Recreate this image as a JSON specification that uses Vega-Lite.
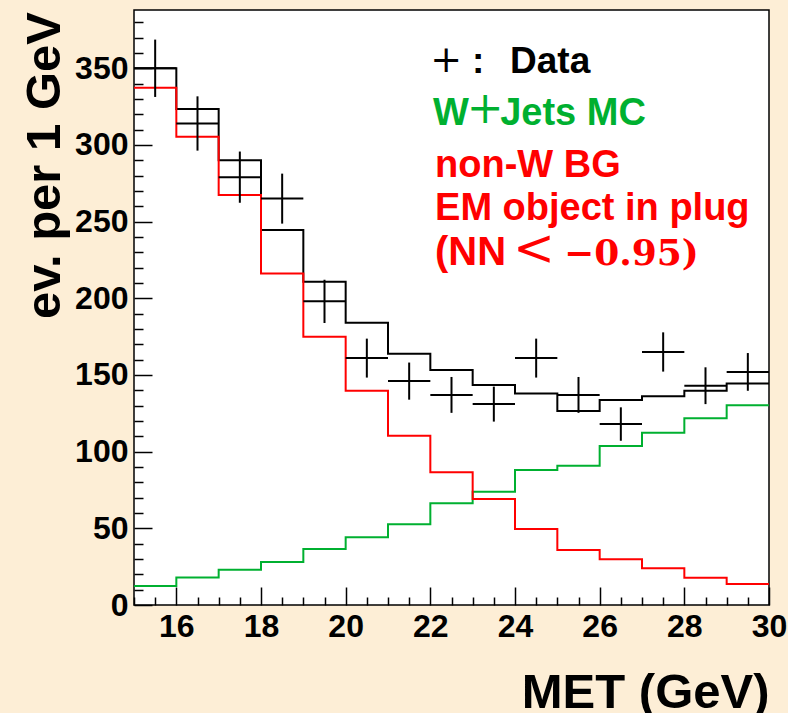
{
  "$schema": "https://vega.github.io/schema/vega-lite/v6.json",
  "autosize": {"type": "none"},
  "width": 635,
  "height": 595,
  "padding": {"left": 134, "top": 10, "right": 19, "bottom": 108},
  "background": "#fdeed6",
  "config": {
    "view": {"fill": "white", "stroke": "black", "strokeWidth": 1.5},
    "font": "Liberation Sans"
  },
  "datasets": {
    "bins": [
      {"lo": 15, "hi": 16, "total": 350.0, "wjets": 12.4, "nonw": 337.3},
      {"lo": 16, "hi": 17, "total": 323.5, "wjets": 18.0, "nonw": 305.3},
      {"lo": 17, "hi": 18, "total": 290.0, "wjets": 23.0, "nonw": 267.3},
      {"lo": 18, "hi": 19, "total": 244.5, "wjets": 28.0, "nonw": 216.2},
      {"lo": 19, "hi": 20, "total": 210.8, "wjets": 36.5, "nonw": 175.0},
      {"lo": 20, "hi": 21, "total": 184.0, "wjets": 44.1, "nonw": 139.7},
      {"lo": 21, "hi": 22, "total": 163.8, "wjets": 52.6, "nonw": 110.4},
      {"lo": 22, "hi": 23, "total": 153.2, "wjets": 66.3, "nonw": 86.5},
      {"lo": 23, "hi": 24, "total": 143.4, "wjets": 73.9, "nonw": 69.1},
      {"lo": 24, "hi": 25, "total": 138.0, "wjets": 88.0, "nonw": 49.5},
      {"lo": 25, "hi": 26, "total": 126.5, "wjets": 90.8, "nonw": 35.9},
      {"lo": 26, "hi": 27, "total": 133.6, "wjets": 103.7, "nonw": 29.8},
      {"lo": 27, "hi": 28, "total": 136.2, "wjets": 112.3, "nonw": 23.9},
      {"lo": 28, "hi": 29, "total": 139.7, "wjets": 121.7, "nonw": 17.8},
      {"lo": 29, "hi": 30, "total": 144.5, "wjets": 130.2, "nonw": 13.7}
    ],
    "points": [
      {"lo": 15, "hi": 16, "mid": 15.5, "n": 350, "elo": 331.3, "ehi": 368.7},
      {"lo": 16, "hi": 17, "mid": 16.5, "n": 314, "elo": 296.3, "ehi": 331.7},
      {"lo": 17, "hi": 18, "mid": 17.5, "n": 279, "elo": 262.3, "ehi": 295.7},
      {"lo": 18, "hi": 19, "mid": 18.5, "n": 265, "elo": 248.7, "ehi": 281.3},
      {"lo": 19, "hi": 20, "mid": 19.5, "n": 198, "elo": 183.9, "ehi": 212.1},
      {"lo": 20, "hi": 21, "mid": 20.5, "n": 161, "elo": 148.3, "ehi": 173.7},
      {"lo": 21, "hi": 22, "mid": 21.5, "n": 146, "elo": 133.9, "ehi": 158.1},
      {"lo": 22, "hi": 23, "mid": 22.5, "n": 137, "elo": 125.3, "ehi": 148.7},
      {"lo": 23, "hi": 24, "mid": 23.5, "n": 131, "elo": 119.6, "ehi": 142.4},
      {"lo": 24, "hi": 25, "mid": 24.5, "n": 161, "elo": 148.3, "ehi": 173.7},
      {"lo": 25, "hi": 26, "mid": 25.5, "n": 137, "elo": 125.3, "ehi": 148.7},
      {"lo": 26, "hi": 27, "mid": 26.5, "n": 118, "elo": 107.1, "ehi": 128.9},
      {"lo": 27, "hi": 28, "mid": 27.5, "n": 165, "elo": 152.2, "ehi": 177.8},
      {"lo": 28, "hi": 29, "mid": 28.5, "n": 143, "elo": 131.0, "ehi": 155.0},
      {"lo": 29, "hi": 30, "mid": 29.5, "n": 152, "elo": 139.7, "ehi": 164.3}
    ]
  },
  "layer": [
    {
      "data": {"name": "bins"},
      "transform": [
        {"fold": ["total", "wjets", "nonw"], "as": ["series", "count"]},
        {"fold": ["lo", "hi"], "as": ["edge", "met"]}
      ],
      "mark": {"type": "line", "strokeWidth": 2, "clip": true},
      "encoding": {
        "x": {
          "field": "met", "type": "quantitative",
          "scale": {"domain": [15, 30], "nice": false, "zero": false},
          "axis": {
            "values": [15, 15.5, 16, 16.5, 17, 17.5, 18, 18.5, 19, 19.5, 20, 20.5, 21, 21.5, 22, 22.5, 23, 23.5, 24, 24.5, 25, 25.5, 26, 26.5, 27, 27.5, 28, 28.5, 29, 29.5, 30],
            "tickCount": 200,
            "tickSize": {"condition": {"test": "datum.value % 2 === 0", "value": -18}, "value": -8},
            "tickColor": "black", "tickWidth": 1.5,
            "labelExpr": "datum.value % 2 === 0 ? format(datum.value, 'd') : ''",
            "labelFont": "Liberation Sans", "labelFontWeight": "bold", "labelFontSize": 32,
            "labelColor": "black", "labelPadding": 24, "labelOverlap": false, "labelFlush": false, "labelBound": false,
            "domain": false, "grid": false,
            "title": "MET (GeV)", "titleFont": "Liberation Sans", "titleFontWeight": "bold", "titleFontSize": 49,
            "titleColor": "black", "titleAlign": "right", "titleAnchor": "end", "titleX": 635, "titleY": 102, "titleBaseline": "alphabetic"
          }
        },
        "y": {
          "field": "count", "type": "quantitative",
          "scale": {"domain": [0, 388], "nice": false},
          "axis": {
            "values": [0, 10, 20, 30, 40, 50, 60, 70, 80, 90, 100, 110, 120, 130, 140, 150, 160, 170, 180, 190, 200, 210, 220, 230, 240, 250, 260, 270, 280, 290, 300, 310, 320, 330, 340, 350, 360, 370, 380],
            "tickCount": 200,
            "tickSize": {"condition": {"test": "datum.value % 50 === 0", "value": -18}, "value": -9},
            "tickColor": "black", "tickWidth": 1.5,
            "labelExpr": "datum.value % 50 === 0 ? datum.label : ''",
            "labelFont": "Liberation Sans", "labelFontWeight": "bold", "labelFontSize": 32,
            "labelColor": "black", "labelPadding": 24, "labelOverlap": false, "labelFlush": false, "labelBound": false,
            "domain": false, "grid": false,
            "title": "ev. per 1 GeV", "titleFont": "Liberation Sans", "titleFontWeight": "bold", "titleFontSize": 49,
            "titleColor": "black", "titleAngle": -90, "titleAlign": "center", "titleX": -75, "titleY": 155, "titleBaseline": "alphabetic"
          }
        },
        "color": {
          "field": "series", "type": "nominal",
          "scale": {"domain": ["nonw", "wjets", "total"], "range": ["#ff0000", "#00b030", "black"]},
          "legend": null
        },
        "order": [
          {"field": "met", "type": "quantitative"},
          {"field": "lo", "type": "quantitative"}
        ]
      }
    },
    {
      "data": {"name": "points"},
      "mark": {"type": "rule", "strokeWidth": 2, "color": "black"},
      "encoding": {
        "x": {"field": "lo", "type": "quantitative"},
        "x2": {"field": "hi"},
        "y": {"field": "n", "type": "quantitative"}
      }
    },
    {
      "data": {"name": "points"},
      "mark": {"type": "rule", "strokeWidth": 2, "color": "black"},
      "encoding": {
        "x": {"field": "mid", "type": "quantitative"},
        "y": {"field": "elo", "type": "quantitative"},
        "y2": {"field": "ehi"}
      }
    },
    {
      "data": {"values": [{}]},
      "mark": {"type": "text", "text": "+", "font": "DejaVu Serif", "fontWeight": "normal", "fontSize": 38, "align": "left", "baseline": "alphabetic", "color": "black"},
      "encoding": {"x": {"datum": 22.0}, "y": {"datum": 347.5}}
    },
    {
      "data": {"values": [{}]},
      "mark": {"type": "text", "text": ":", "font": "Liberation Sans", "fontWeight": "bold", "fontSize": 37, "align": "left", "baseline": "alphabetic", "color": "black"},
      "encoding": {"x": {"datum": 22.985}, "y": {"datum": 346.8}}
    },
    {
      "data": {"values": [{}]},
      "mark": {"type": "text", "text": "Data", "font": "Liberation Sans", "fontWeight": "bold", "fontSize": 37, "align": "left", "baseline": "alphabetic", "color": "black"},
      "encoding": {"x": {"datum": 23.883}, "y": {"datum": 346.8}}
    },
    {
      "data": {"values": [{}]},
      "mark": {"type": "text", "text": "W", "font": "Liberation Sans", "fontWeight": "bold", "fontSize": 38, "align": "left", "baseline": "alphabetic", "color": "#00b030"},
      "encoding": {"x": {"datum": 22.064}, "y": {"datum": 312.9}}
    },
    {
      "data": {"values": [{}]},
      "mark": {"type": "text", "text": "+", "font": "DejaVu Serif", "fontWeight": "normal", "fontSize": 44, "align": "left", "baseline": "alphabetic", "color": "#00b030"},
      "encoding": {"x": {"datum": 22.86}, "y": {"datum": 314.5}}
    },
    {
      "data": {"values": [{}]},
      "mark": {"type": "text", "text": "Jets MC", "font": "Liberation Sans", "fontWeight": "bold", "fontSize": 38, "align": "left", "baseline": "alphabetic", "color": "#00b030"},
      "encoding": {"x": {"datum": 23.65}, "y": {"datum": 312.9}}
    },
    {
      "data": {"values": [{}]},
      "mark": {"type": "text", "text": "non-W BG", "font": "Liberation Sans", "fontWeight": "bold", "fontSize": 38, "align": "left", "baseline": "alphabetic", "color": "#ff0000"},
      "encoding": {"x": {"datum": 22.111}, "y": {"datum": 279.0}}
    },
    {
      "data": {"values": [{}]},
      "mark": {"type": "text", "text": "EM object in plug", "font": "Liberation Sans", "fontWeight": "bold", "fontSize": 38, "align": "left", "baseline": "alphabetic", "color": "#ff0000"},
      "encoding": {"x": {"datum": 22.111}, "y": {"datum": 251.0}}
    },
    {
      "data": {"values": [{}]},
      "mark": {"type": "text", "text": "(NN", "font": "Liberation Sans", "fontWeight": "bold", "fontSize": 40, "align": "left", "baseline": "alphabetic", "color": "#ff0000"},
      "encoding": {"x": {"datum": 22.111}, "y": {"datum": 221.6}}
    },
    {
      "data": {"values": [{}]},
      "mark": {"type": "text", "text": "<", "font": "DejaVu Serif", "fontWeight": "normal", "fontSize": 50, "align": "left", "baseline": "alphabetic", "color": "#ff0000"},
      "encoding": {"x": {"datum": 23.95}, "y": {"datum": 221.6}}
    },
    {
      "data": {"values": [{}]},
      "mark": {"type": "text", "text": "−0.95)", "font": "DejaVu Serif", "fontWeight": "bold", "fontSize": 36, "align": "left", "baseline": "alphabetic", "color": "#ff0000"},
      "encoding": {"x": {"datum": 25.158}, "y": {"datum": 221.6}}
    }
  ]
}
